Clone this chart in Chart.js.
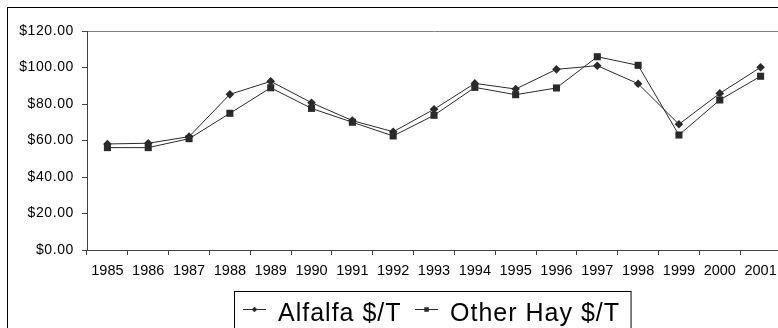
<!DOCTYPE html>
<html>
<head>
<meta charset="utf-8">
<title>Alfalfa and Other Hay Prices</title>
<script src="https://cdn.jsdelivr.net/npm/chart.js@4/dist/chart.umd.min.js"></script>
<style>
  html, body { margin: 0; padding: 0; background: #fff; overflow: hidden; }
  #wrap { position: relative; width: 790px; height: 328px; }
</style>
</head>
<body>
<div id="wrap"><canvas id="hay"></canvas></div>
<script>
// Season-average prices, dollars per ton
const years = ['1985', '1986', '1987', '1988', '1989', '1990', '1991', '1992', '1993',
               '1994', '1995', '1996', '1997', '1998', '1999', '2000', '2001'];
const alfalfa = [58.1, 58.5, 62.1, 85.3, 92.4, 80.7, 70.9, 64.8, 77.1,
                 91.3, 88.2, 99.0, 101.0, 91.1, 68.9, 85.8, 100.1];
const otherHay = [56.1, 56.1, 61.0, 74.9, 88.9, 77.6, 70.0, 62.5, 73.8,
                  89.1, 85.1, 88.8, 105.9, 101.2, 63.0, 82.2, 95.2];
const priceTicks = [0, 20, 40, 60, 80, 100, 120];
const seriesNames = ['Alfalfa $/T', 'Other Hay $/T'];

const INK = '#2a2a2a';
const AXIS = '#404040';
const FONT = '"Liberation Sans", Arial, sans-serif';

// Linear scale whose tick labels are drawn with a little extra letter spacing
class SpacedLinearScale extends Chart.LinearScale {
  static id = 'spacedLinear';
  drawLabels(area) {
    const ctx = this.ctx;
    const prev = ctx.letterSpacing;
    ctx.letterSpacing = '0.6px';
    super.drawLabels(area);
    ctx.letterSpacing = prev || '0px';
  }
}
Chart.register(SpacedLinearScale);

// Outer frame around the whole chart
const framePlugin = {
  id: 'frame',
  afterDraw(chart) {
    const ctx = chart.ctx;
    ctx.save();
    ctx.strokeStyle = '#000';
    ctx.lineWidth = 1;
    ctx.strokeRect(7.5, 7.5, 1200, 1200);
    ctx.restore();
  }
};

// Boxed legend under the axis: short line with the series marker, then the name
const boxLegendPlugin = {
  id: 'boxLegend',
  afterDraw(chart) {
    const ctx = chart.ctx;
    const left = 234.5, top = 291.5;
    const lineY = 309.5, baseY = 320.5;
    ctx.save();
    ctx.font = '25px ' + FONT;
    ctx.letterSpacing = '1px';
    let x = left + 8.5;
    const items = chart.data.datasets.map((ds, i) => {
      const textX = x + 23 + 12;
      const w = ctx.measureText(ds.label).width;
      const item = { ds, lineX: x, textX };
      x = textX + w + (i === chart.data.datasets.length - 1 ? 0 : 13.5);
      return item;
    });
    const right = x + 11;
    ctx.fillStyle = '#fff';
    ctx.fillRect(left, top, right - left, 60);
    ctx.strokeStyle = '#000';
    ctx.lineWidth = 1;
    ctx.strokeRect(left, top, right - left, 60);
    items.forEach(({ ds, lineX, textX }) => {
      ctx.strokeStyle = ds.borderColor;
      ctx.lineWidth = 1;
      ctx.beginPath();
      ctx.moveTo(lineX, lineY);
      ctx.lineTo(lineX + 23, lineY);
      ctx.stroke();
      ctx.fillStyle = ds.pointBackgroundColor;
      const r = ds.pointStyle === 'rect' ? 3.2 : 2.8;
      Chart.helpers.drawPoint(ctx, { pointStyle: ds.pointStyle, rotation: 0, borderWidth: 0, radius: r }, lineX + 11.5, lineY);
      ctx.fillStyle = '#000';
      ctx.textBaseline = 'alphabetic';
      ctx.textAlign = 'left';
      ctx.fillText(ds.label, textX, baseY);
    });
    ctx.restore();
  }
};

new Chart(document.getElementById('hay'), {
  type: 'line',
  data: {
    labels: years,
    datasets: [
      {
        label: seriesNames[0],
        data: alfalfa,
        borderColor: INK,
        borderWidth: 1,
        pointStyle: 'rectRot',
        pointRadius: 4.3,
        pointBackgroundColor: INK,
        pointBorderColor: INK,
        pointBorderWidth: 0,
        tension: 0,
        fill: false
      },
      {
        label: seriesNames[1],
        data: otherHay,
        borderColor: INK,
        borderWidth: 1,
        pointStyle: 'rect',
        pointRadius: 5,
        pointBackgroundColor: INK,
        pointBorderColor: INK,
        pointBorderWidth: 0,
        tension: 0,
        fill: false
      }
    ]
  },
  options: {
    responsive: true,
    maintainAspectRatio: false,
    animation: false,
    events: [],
    layout: { padding: { top: 31, right: 9, left: 0, bottom: 0 } },
    plugins: {
      legend: { display: false },
      title: { display: false },
      tooltip: { enabled: false }
    },
    scales: {
      x: {
        type: 'category',
        offset: true,
        afterFit(scale) { scale.height = 78; },
        grid: {
          display: true,
          offset: true,
          drawOnChartArea: false,
          drawTicks: true,
          tickLength: 5,
          tickColor: AXIS,
          color: AXIS
        },
        border: { display: true, color: AXIS, width: 1 },
        ticks: {
          color: '#000',
          font: { family: FONT, size: 14.5 },
          padding: 7.2,
          maxRotation: 0,
          autoSkip: false
        }
      },
      y: {
        type: 'spacedLinear',
        min: priceTicks[0],
        max: priceTicks[priceTicks.length - 1],
        afterFit(scale) { scale.width = 87; },
        afterBuildTicks(scale) { scale.ticks = priceTicks.map(v => ({ value: v })); },
        grid: {
          display: true,
          drawOnChartArea: true,
          drawTicks: true,
          tickLength: 5,
          tickColor: AXIS,
          color: (c) => (c.tick && c.tick.value === priceTicks[priceTicks.length - 1]) ? '#808080' : 'rgba(0,0,0,0)'
        },
        border: { display: true, color: AXIS, width: 1 },
        ticks: {
          color: '#000',
          font: { family: FONT, size: 14 },
          padding: 8,
          callback: (v) => '$' + Number(v).toFixed(2)
        }
      }
    }
  },
  plugins: [framePlugin, boxLegendPlugin]
});
</script>
</body>
</html>
